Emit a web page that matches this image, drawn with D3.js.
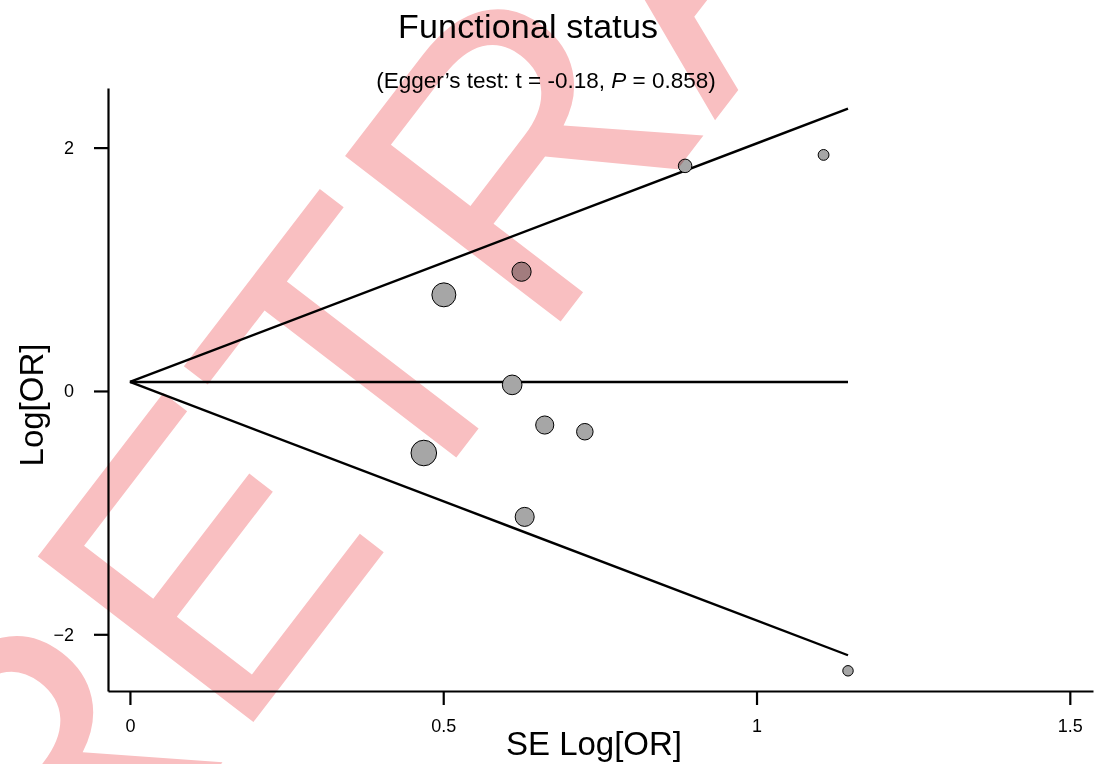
<!DOCTYPE html>
<html>
<head>
<meta charset="utf-8">
<script src="https://cdn.jsdelivr.net/npm/d3@7"></script>
<style>
  body { margin: 0; background: #fff; }
  svg { display: block; font-family: "Liberation Sans", Arial, sans-serif; }
  .wm { mix-blend-mode: multiply; }
</style>
</head>
<body>
<svg id="chart" width="1095" height="764"></svg>
<script>
// study estimates
const se_vals   = [1.107, 0.886, 0.625, 0.501, 0.610, 0.662, 0.726, 0.469, 0.630, 1.146];
const logor_vals = [1.94, 1.85, 0.98, 0.79, 0.05, -0.28, -0.335, -0.51, -1.035, -2.30];
const pooled = 0.074;
const se_max = 1.146;
const x_ticks = [0, 0.5, 1, 1.5];
const y_ticks = [-2, 0, 2];

const svg = d3.select('#chart');

const x = d3.scaleLinear().domain([-0.035, 1.537]).range([108, 1093]);
const y = d3.scaleLinear().domain([-2.466, 2.49]).range([691, 88]);
const r = d3.scaleLinear().domain([0, 1]).range([0, 6]); // radius ~ 1/SE

// axes
const y_axis = svg.append('g')
    .attr('transform', 'translate(108,0)')
    .call(d3.axisLeft(y).tickValues(y_ticks).tickSize(14).tickSizeOuter(0)
        .tickFormat(d3.format('~g')).tickPadding(20));
const x_axis = svg.append('g')
    .attr('transform', 'translate(0,691)')
    .call(d3.axisBottom(x).tickValues(x_ticks).tickSize(14).tickSizeOuter(0)
        .tickFormat(d3.format('~g')).tickPadding(12));

[y_axis, x_axis].forEach(function(g) {
    g.select('.domain').attr('stroke-width', 2.2);
    g.selectAll('.tick line').attr('stroke-width', 2.2);
    g.selectAll('.tick text')
        .attr('fill', '#000')
        .style('font-size', '18px')
        .style('font-family', '"Liberation Sans", Arial, sans-serif');
});
x_axis.selectAll('.tick text').attr('dy', '0.85em');

// funnel lines
const funnel = [
    [[0, pooled], [se_max, pooled + 1.96 * se_max]],
    [[0, pooled], [se_max, pooled]],
    [[0, pooled], [se_max, pooled - 1.96 * se_max]]
];
const line = d3.line().x(d => x(d[0])).y(d => y(d[1]));
svg.append('g').selectAll('path')
    .data(funnel)
    .join('path')
    .attr('d', line)
    .attr('fill', 'none')
    .attr('stroke', '#000')
    .attr('stroke-width', 2.4);

// study points
svg.append('g').selectAll('circle')
    .data(se_vals.map((s, i) => ({se: s, lor: logor_vals[i]})))
    .join('circle')
    .attr('cx', d => x(d.se))
    .attr('cy', d => y(d.lor))
    .attr('r', d => r(1 / d.se))
    .attr('fill', '#a6a6a6')
    .attr('stroke', '#000')
    .attr('stroke-width', 1);

// titles
svg.append('text')
    .attr('x', 528).attr('y', 37.5)
    .attr('text-anchor', 'middle')
    .attr('font-size', 34)
    .attr('textLength', 260)
    .text('Functional status');

const sub = svg.append('text')
    .attr('x', 546).attr('y', 88)
    .attr('text-anchor', 'middle')
    .attr('font-size', 22.5);
sub.append('tspan').text('(Egger\u2019s test: t = -0.18, ');
sub.append('tspan').attr('font-style', 'italic').text('P');
sub.append('tspan').text(' = 0.858)');

svg.append('text')
    .attr('x', 594).attr('y', 755)
    .attr('text-anchor', 'middle')
    .attr('font-size', 33)
    .text('SE Log[OR]');

svg.append('text')
    .attr('transform', 'translate(43,405) rotate(-90)')
    .attr('text-anchor', 'middle')
    .attr('font-size', 33)
    .text('Log[OR]');

// watermark
svg.append('text')
    .attr('class', 'wm')
    .attr('transform', 'translate(60,974) rotate(-52.5)')
    .attr('font-size', 395)
    .attr('fill', '#f9bfc1')
    .text('RETRACTED');
</script>
</body>
</html>
